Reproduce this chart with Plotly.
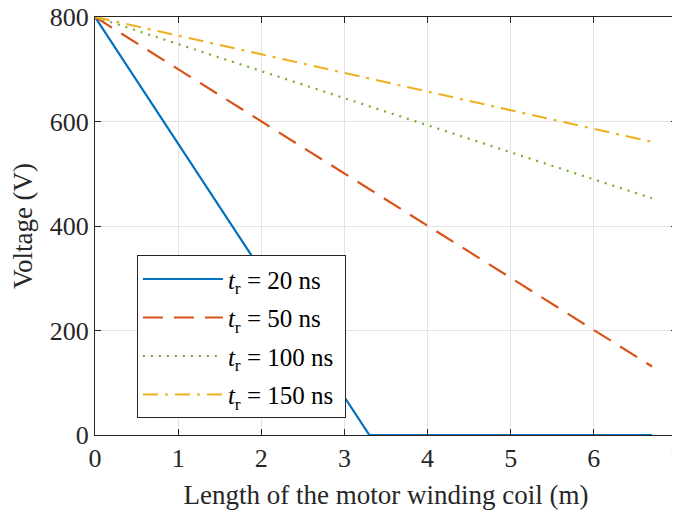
import plotly.graph_objects as go

# Data
x_20 = [0, 3.30, 6.70]
v_20 = [800, 0, 0]
x_50 = [0, 6.70]
v_50 = [800, 131]
x_100 = [0, 6.70]
v_100 = [800, 453]
x_150 = [0, 6.70]
v_150 = [800, 561]

names = ["<i>t</i><sub>r</sub> = 20 ns", "<i>t</i><sub>r</sub> = 50 ns",
         "<i>t</i><sub>r</sub> = 100 ns", "<i>t</i><sub>r</sub> = 150 ns"]
x_ticks = [0, 1, 2, 3, 4, 5, 6, 7]
y_ticks = [0, 200, 400, 600, 800]

FONT = "Liberation Serif, Times New Roman, serif"
INK = "#262626"
PAD = "&nbsp;"

fig = go.Figure()
fig.add_trace(go.Scatter(x=x_20, y=v_20, mode="lines", name=names[0] + PAD, legendgroup="a",
                         line=dict(color="#0072BD", width=2.2)))
fig.add_trace(go.Scatter(x=x_50, y=v_50, mode="lines", name=names[1] + PAD, legendgroup="b",
                         line=dict(color="#D95319", width=2.2, dash="20px,11px")))
fig.add_trace(go.Scatter(x=x_100, y=v_100, mode="lines", name=names[2] + PAD, legendgroup="c",
                         line=dict(color="#77AC30", width=2.2, dash="2px,6px")))
fig.add_trace(go.Scatter(x=x_150, y=v_150, mode="lines", name=names[3] + PAD, legendgroup="d",
                         line=dict(color="#EDB120", width=2.2, dash="15px,7px,3px,7px")))

axis_common = dict(showline=True, linecolor=INK, linewidth=1, mirror="allticks",
                   ticks="inside", ticklen=6, tickcolor=INK, automargin=False,
                   ticklabeloverflow="allow",
                   showgrid=True, gridcolor="#E3E3E3", gridwidth=1, zeroline=False,
                   tickfont=dict(family=FONT, size=26, color=INK))

fig.update_xaxes(range=[0, 7], tickvals=x_ticks, **axis_common,
                 title=dict(text="Length of the motor winding coil (m)",
                            font=dict(family=FONT, size=27, color=INK), standoff=12))
fig.update_yaxes(range=[0, 800], tickvals=y_ticks, **axis_common,
                 title=dict(text="Voltage (V)",
                            font=dict(family=FONT, size=27, color=INK), standoff=10))

fig.update_layout(
    width=680, height=514,
    margin=dict(l=87, r=11, t=9, b=87),
    paper_bgcolor="white", plot_bgcolor="white",
    font=dict(family=FONT, size=25, color=INK),
    showlegend=True,
    legend=dict(x=0.072, y=0.43, xanchor="left", yanchor="top",
                bgcolor="white", bordercolor=INK, borderwidth=1,
                font=dict(family=FONT, size=25, color="#000000"),
                itemwidth=80, tracegroupgap=3),
)

fig.write_html("out.html")
